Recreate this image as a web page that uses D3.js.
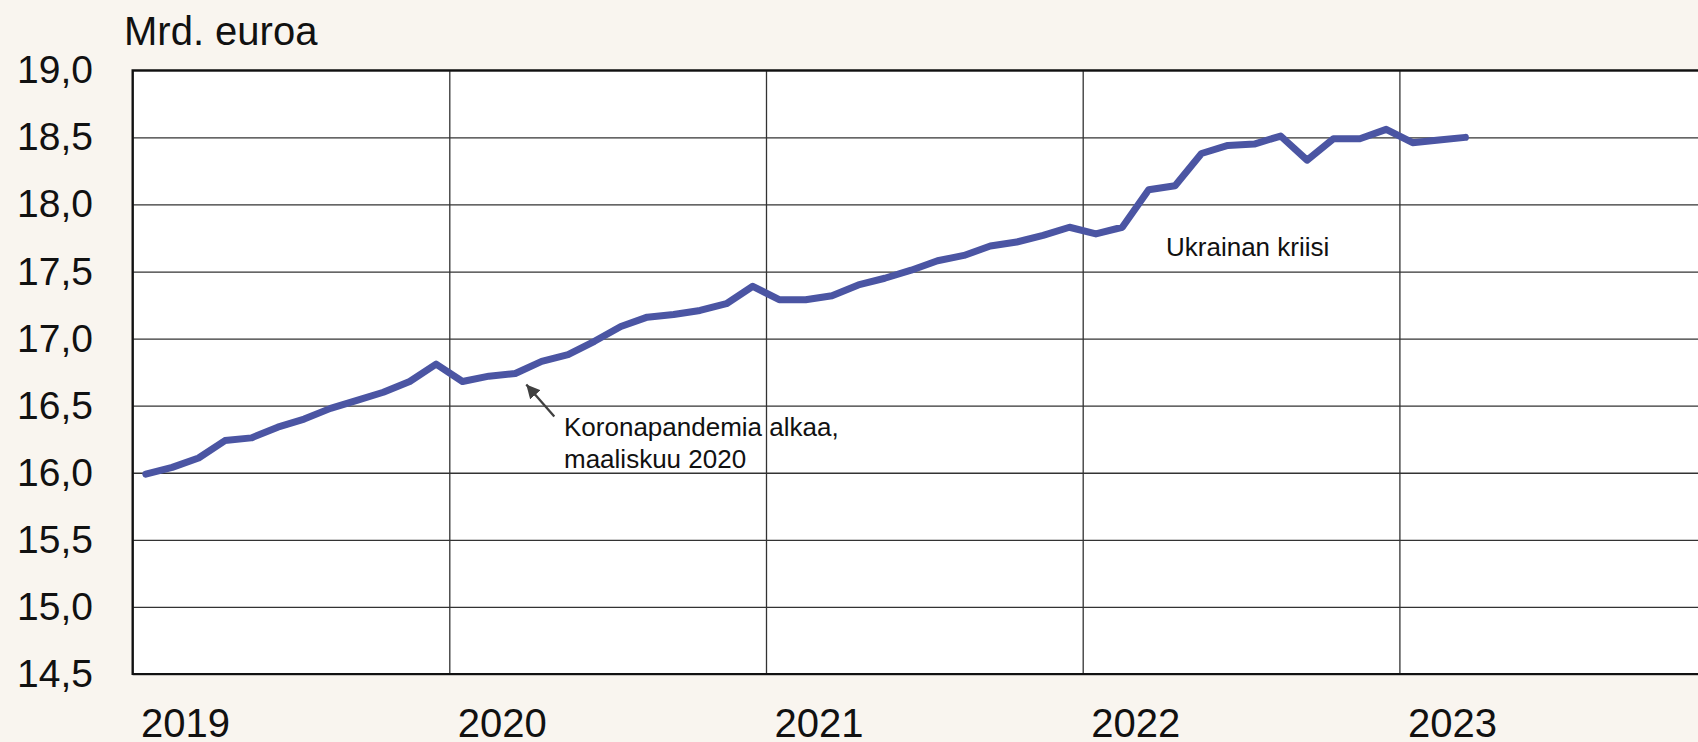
<!DOCTYPE html>
<html>
<head>
<meta charset="utf-8">
<script src="https://cdn.jsdelivr.net/npm/d3@7"></script>
<style>
  html, body { margin: 0; padding: 0; background: #f9f5ef; }
  svg { display: block; font-family: "Liberation Sans", Arial, sans-serif; }
</style>
</head>
<body>
<svg width="1698" height="742"></svg>
<script>
// monthly values, Jan 2019 - Mar 2023 (Mrd. euroa)
const startYear = 2019;
const values = [
  15.99, 16.04, 16.11, 16.24, 16.26, 16.34, 16.40, 16.48, 16.54, 16.60, 16.68, 16.81,
  16.68, 16.72, 16.74, 16.83, 16.88, 16.98, 17.09, 17.16, 17.18, 17.21, 17.26, 17.39,
  17.29, 17.29, 17.32, 17.40, 17.45, 17.51, 17.58, 17.62, 17.69, 17.72, 17.77, 17.83,
  17.78, 17.83, 18.11, 18.14, 18.38, 18.44, 18.45, 18.51, 18.33, 18.49, 18.49, 18.56,
  18.46, 18.48, 18.50
];
const yearTicks = [2019, 2020, 2021, 2022, 2023];
const yTicks = [14.5, 15.0, 15.5, 16.0, 16.5, 17.0, 17.5, 18.0, 18.5, 19.0];
const unitLabel = "Mrd. euroa";
const covidNote = ["Koronapandemia alkaa,", "maaliskuu 2020"];
const covidIndex = 14; // maaliskuu 2020
const ukraineNote = "Ukrainan kriisi";

const svg = d3.select("svg");
const margin = { top: 70.3, left: 132.6, bottom: 68, right: 0 };
const yearWidth = 316.7;
const innerHeight = 742 - margin.top - margin.bottom;
const innerWidth = yearWidth * yearTicks.length;

const data = values.map((v, i) => ({ t: startYear + (i + 0.5) / 12, v }));

const x = d3.scaleLinear()
  .domain([startYear, startYear + yearTicks.length])
  .range([0, innerWidth]);
const y = d3.scaleLinear()
  .domain([14.5, 19.0])
  .range([innerHeight, 0]);

const g = svg.append("g")
  .attr("transform", `translate(${margin.left},${margin.top})`);

g.append("rect")
  .attr("width", innerWidth)
  .attr("height", innerHeight)
  .attr("fill", "#ffffff");

const fmt = d => d.toFixed(1).replace(".", ",");

// y gridlines + labels
const yAxis = g.append("g")
  .call(d3.axisLeft(y).tickValues(yTicks).tickFormat(fmt)
    .tickSize(-innerWidth).tickPadding(39.6));
yAxis.select(".domain").remove();
yAxis.selectAll(".tick line").attr("stroke", "#333").attr("stroke-width", 1.3);
yAxis.selectAll(".tick text")
  .attr("font-size", 39).attr("fill", "#111")
  .attr("font-family", "Liberation Sans, Arial, sans-serif");

// x gridlines + year labels
const xAxis = g.append("g")
  .attr("transform", `translate(0,${innerHeight})`)
  .call(d3.axisBottom(x).tickValues(yearTicks).tickFormat(d3.format("d"))
    .tickSize(-innerHeight).tickPadding(34.6));
xAxis.select(".domain").remove();
xAxis.selectAll(".tick line").attr("stroke", "#333").attr("stroke-width", 1.3);
xAxis.selectAll(".tick text")
  .attr("text-anchor", "start").attr("dx", 8)
  .attr("font-size", 40).attr("fill", "#111")
  .attr("font-family", "Liberation Sans, Arial, sans-serif");

// frame: left, top and bottom edges
g.append("path")
  .attr("d", `M${innerWidth},0H0V${innerHeight}H${innerWidth}`)
  .attr("fill", "none")
  .attr("stroke", "#111")
  .attr("stroke-width", 2.2);

// the series
g.append("path")
  .datum(data)
  .attr("fill", "none")
  .attr("stroke", "#4b55a3")
  .attr("stroke-width", 7)
  .attr("stroke-linejoin", "round")
  .attr("stroke-linecap", "round")
  .attr("d", d3.line().x(d => x(d.t)).y(d => y(d.v)));

// unit label
svg.append("text")
  .attr("x", 124).attr("y", 45)
  .attr("font-size", 40).attr("fill", "#111")
  .text(unitLabel);

// covid annotation with arrow
svg.append("defs").append("marker")
  .attr("id", "arrow")
  .attr("viewBox", "0 0 10 10")
  .attr("refX", 10).attr("refY", 5)
  .attr("markerWidth", 6).attr("markerHeight", 6)
  .attr("markerUnits", "strokeWidth")
  .attr("orient", "auto")
  .append("path")
  .attr("d", "M0,0L10,5L0,10z")
  .attr("fill", "#404040");

const cx = x(data[covidIndex].t);
const cy = y(data[covidIndex].v);
g.append("line")
  .attr("x1", cx + 39).attr("y1", cy + 43)
  .attr("x2", cx + 11).attr("y2", cy + 11)
  .attr("stroke", "#404040")
  .attr("stroke-width", 2.3)
  .attr("marker-end", "url(#arrow)");

svg.append("text")
  .attr("font-size", 26).attr("fill", "#111")
  .selectAll("tspan")
  .data(covidNote)
  .join("tspan")
  .attr("x", 564)
  .attr("y", (d, i) => 436 + i * 32)
  .text(d => d);

svg.append("text")
  .attr("x", 1166).attr("y", 256)
  .attr("font-size", 26).attr("fill", "#111")
  .text(ukraineNote);
</script>
</body>
</html>
